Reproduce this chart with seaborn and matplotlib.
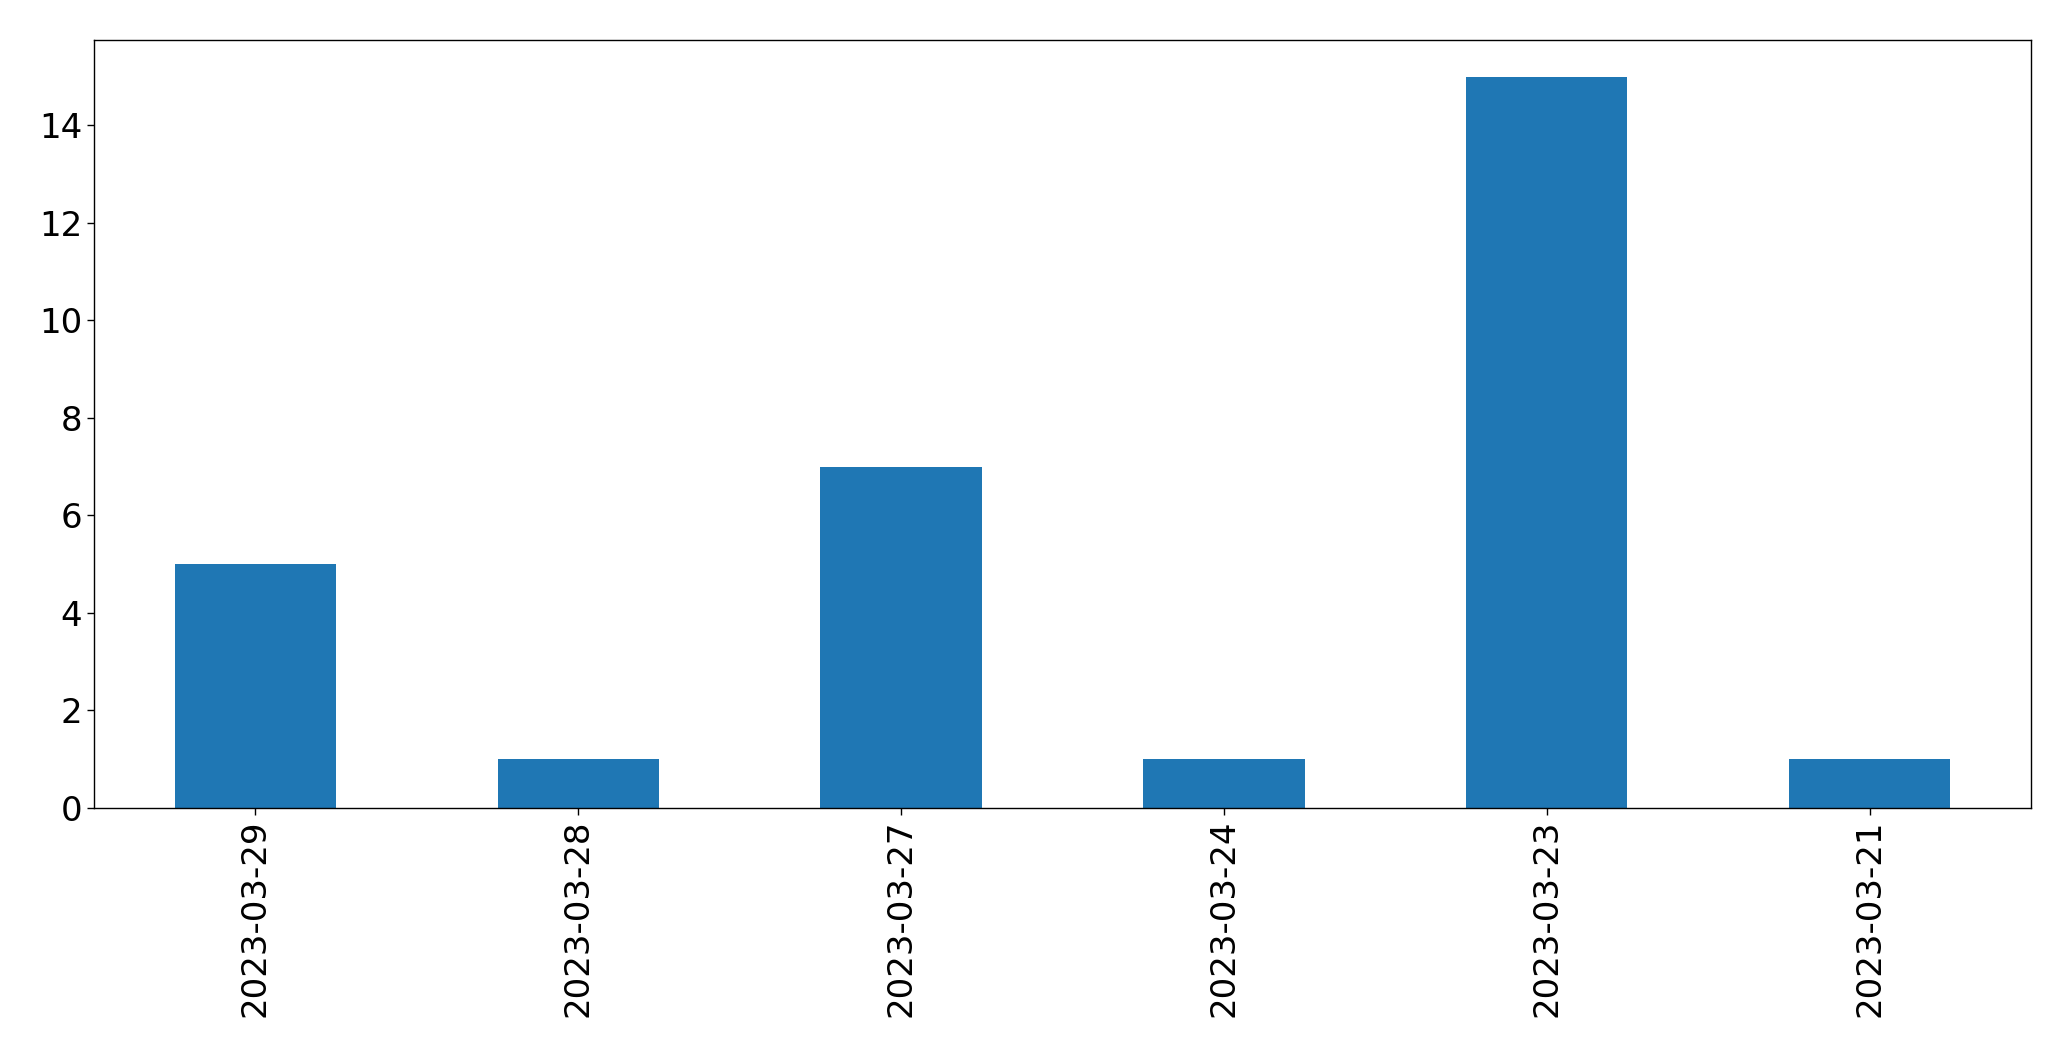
import matplotlib
matplotlib.use('Agg')
import matplotlib.pyplot as plt
import seaborn as sns
import pandas as pd

# data
dates = ['2023-03-29', '2023-03-28', '2023-03-27', '2023-03-24', '2023-03-23', '2023-03-21']
counts = [5, 1, 7, 1, 15, 1]

sns.set_style('white', rc={'text.color': 'black', 'axes.labelcolor': 'black',
                           'xtick.color': 'black', 'ytick.color': 'black',
                           'axes.edgecolor': 'black'})
plt.rcParams['font.family'] = ['DejaVu Sans']

df = pd.DataFrame({'date': dates, 'count': counts})

fig = plt.figure(figsize=(20.71, 10.61), dpi=100)
ax = fig.add_axes([0.0454, 0.2385, 0.9353, 0.7238])

sns.barplot(data=df, x='date', y='count', order=dates, color='#1f77b4',
            saturation=1, width=0.5, linewidth=0, ax=ax)

ax.set_xlim(-0.5, len(dates) - 0.5)
ax.set_ylim(0, max(counts) * 1.05)
ax.set_xlabel('')
ax.set_ylabel('')
ax.tick_params(axis='both', labelsize=24.5, length=5, width=1, direction='out',
               bottom=True, left=True, colors='black')
plt.setp(ax.get_xticklabels(), rotation=90)
for s in ax.spines.values():
    s.set_visible(True)
    s.set_color('black')
    s.set_linewidth(1)

fig.savefig('out.png', dpi=100)
